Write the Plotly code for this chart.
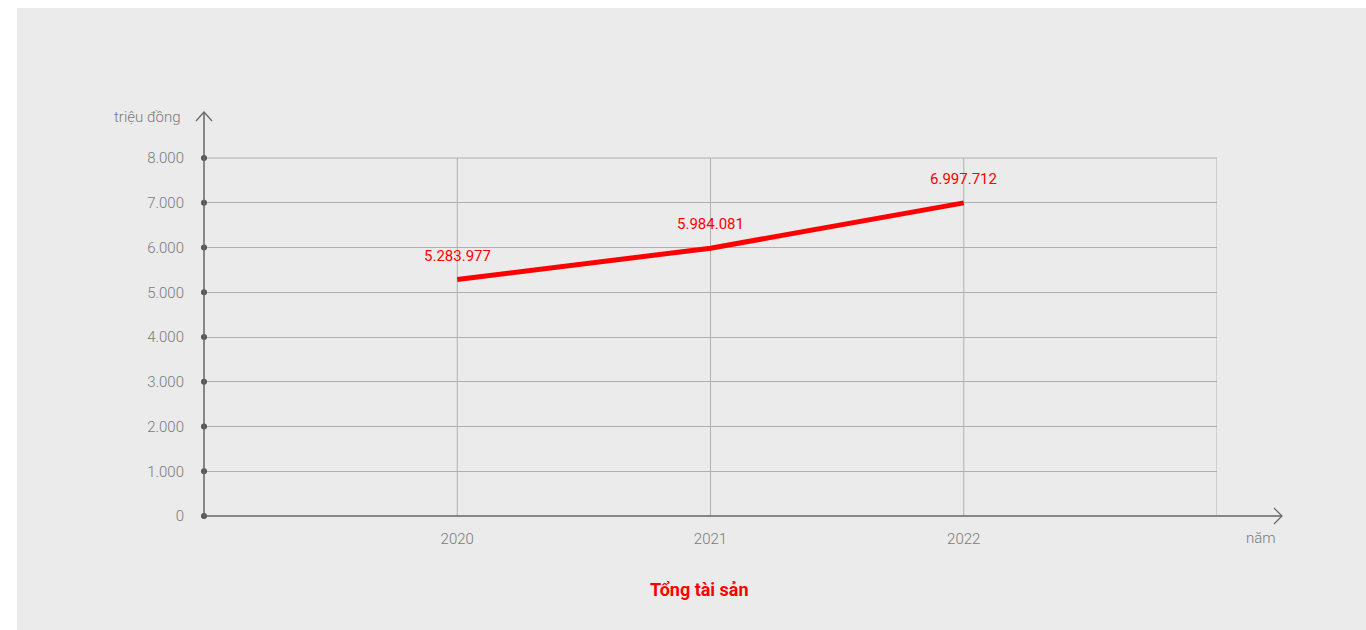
import plotly.graph_objects as go

# Data: total assets (triệu đồng) per year
years = ["2020", "2021", "2022"]
total_assets = [5283.977, 5984.081, 6997.712]
value_labels = ["5.283.977", "5.984.081", "6.997.712"]

y_ticks = [0, 1000, 2000, 3000, 4000, 5000, 6000, 7000, 8000]
y_tick_labels = ["0", "1.000", "2.000", "3.000", "4.000", "5.000", "6.000", "7.000", "8.000"]

x_pos = list(range(1, len(years) + 1))

L, R, T, B = 204, 149, 158, 114
W, H = 1366, 630
pw = W - L - R
ph = H - T - B


def px_x(px):
    return (px - L) / pw


def px_y(py):
    return (H - B - py) / ph


FONT = "Roboto, 'Noto Sans', sans-serif"
AXIS_COL = "#666666"
GRID_COL = "#b0b0b0"
TEXT_COL = "#7a7a7a"
RED = "#ff0000"

fig = go.Figure()

fig.add_trace(go.Scatter(
    x=x_pos, y=total_assets, mode="lines",
    line=dict(color=RED, width=5),
    hoverinfo="skip", showlegend=False,
))

# dots on the value axis at every tick
fig.add_trace(go.Scatter(
    x=[0] * len(y_ticks), y=y_ticks, mode="markers",
    marker=dict(color="#555555", size=6),
    cliponaxis=False, hoverinfo="skip", showlegend=False,
))

annotations = []
for xp, v, lab in zip(x_pos, total_assets, value_labels):
    annotations.append(dict(
        x=xp, y=v, xref="x", yref="y", text=lab, showarrow=False,
        yshift=24, font=dict(family=FONT, size=15, color=RED),
    ))

annotations += [
    dict(x=px_x(182), y=px_y(117), xref="paper", yref="paper", text="triệu đồng",
         showarrow=False, xanchor="right", yanchor="middle",
         font=dict(family=FONT, size=15, color=TEXT_COL, weight=300)),
    dict(x=px_x(1261), y=px_y(538), xref="paper", yref="paper", text="năm",
         showarrow=False, xanchor="center", yanchor="middle",
         font=dict(family=FONT, size=15, color=TEXT_COL, weight=300)),
    dict(x=px_x(699), y=px_y(589), xref="paper", yref="paper", text="<b>Tổng tài sản</b>",
         showarrow=False, xanchor="center", yanchor="middle",
         font=dict(family=FONT, size=18, color=RED)),
]

shapes = [
    # background panel
    dict(type="rect", xref="paper", yref="paper",
         x0=px_x(17), x1=px_x(W + 5), y0=px_y(H + 5), y1=px_y(8),
         fillcolor="#eaebea", line=dict(width=0), layer="below"),
    # top border of the grid
    dict(type="line", xref="paper", yref="paper",
         x0=0, x1=1, y0=1, y1=1,
         line=dict(color=GRID_COL, width=1), layer="below"),
    # axis lines extended with arrows
    dict(type="line", xref="paper", yref="paper",
         x0=0, x1=0, y0=0, y1=px_y(112),
         line=dict(color=AXIS_COL, width=1.5)),
    dict(type="path", xref="paper", yref="paper",
         path=f"M {px_x(196)},{px_y(121)} L {px_x(204)},{px_y(112)} L {px_x(212)},{px_y(121)}",
         line=dict(color=AXIS_COL, width=1.2)),
    dict(type="line", xref="paper", yref="paper",
         x0=0, x1=px_x(1282), y0=0, y1=0,
         line=dict(color=AXIS_COL, width=1.5)),
    dict(type="path", xref="paper", yref="paper",
         path=f"M {px_x(1274)},{px_y(508)} L {px_x(1282)},{px_y(516)} L {px_x(1274)},{px_y(524)}",
         line=dict(color=AXIS_COL, width=1.2)),
]

fig.update_layout(
    width=W, height=H,
    margin=dict(l=L, r=R, t=T, b=B, pad=0),
    paper_bgcolor="#ffffff",
    plot_bgcolor="rgba(0,0,0,0)",
    annotations=annotations,
    shapes=shapes,
    xaxis=dict(
        range=[0, 4], tickvals=x_pos, ticktext=years,
        showgrid=False, zeroline=False, showline=False,
        ticks="outside", ticklen=9, tickcolor="rgba(0,0,0,0)",
        tickfont=dict(family=FONT, size=15, color=TEXT_COL, weight=300),
        fixedrange=True,
    ),
    yaxis=dict(
        range=[0, 8000], tickvals=y_ticks, ticktext=y_tick_labels,
        showgrid=True, gridcolor=GRID_COL, gridwidth=1,
        zeroline=False, showline=False,
        ticks="outside", ticklen=16, tickcolor="rgba(0,0,0,0)",
        tickfont=dict(family=FONT, size=15, color=TEXT_COL, weight=300),
        fixedrange=True,
    ),
)

# vertical grid lines at each category and the right edge
for xv in x_pos + [4]:
    fig.add_shape(type="line", xref="x", yref="paper", x0=xv, x1=xv, y0=0, y1=1,
                  line=dict(color=GRID_COL, width=1), layer="below")

fig.write_html("out.html", config={"displayModeBar": False})
